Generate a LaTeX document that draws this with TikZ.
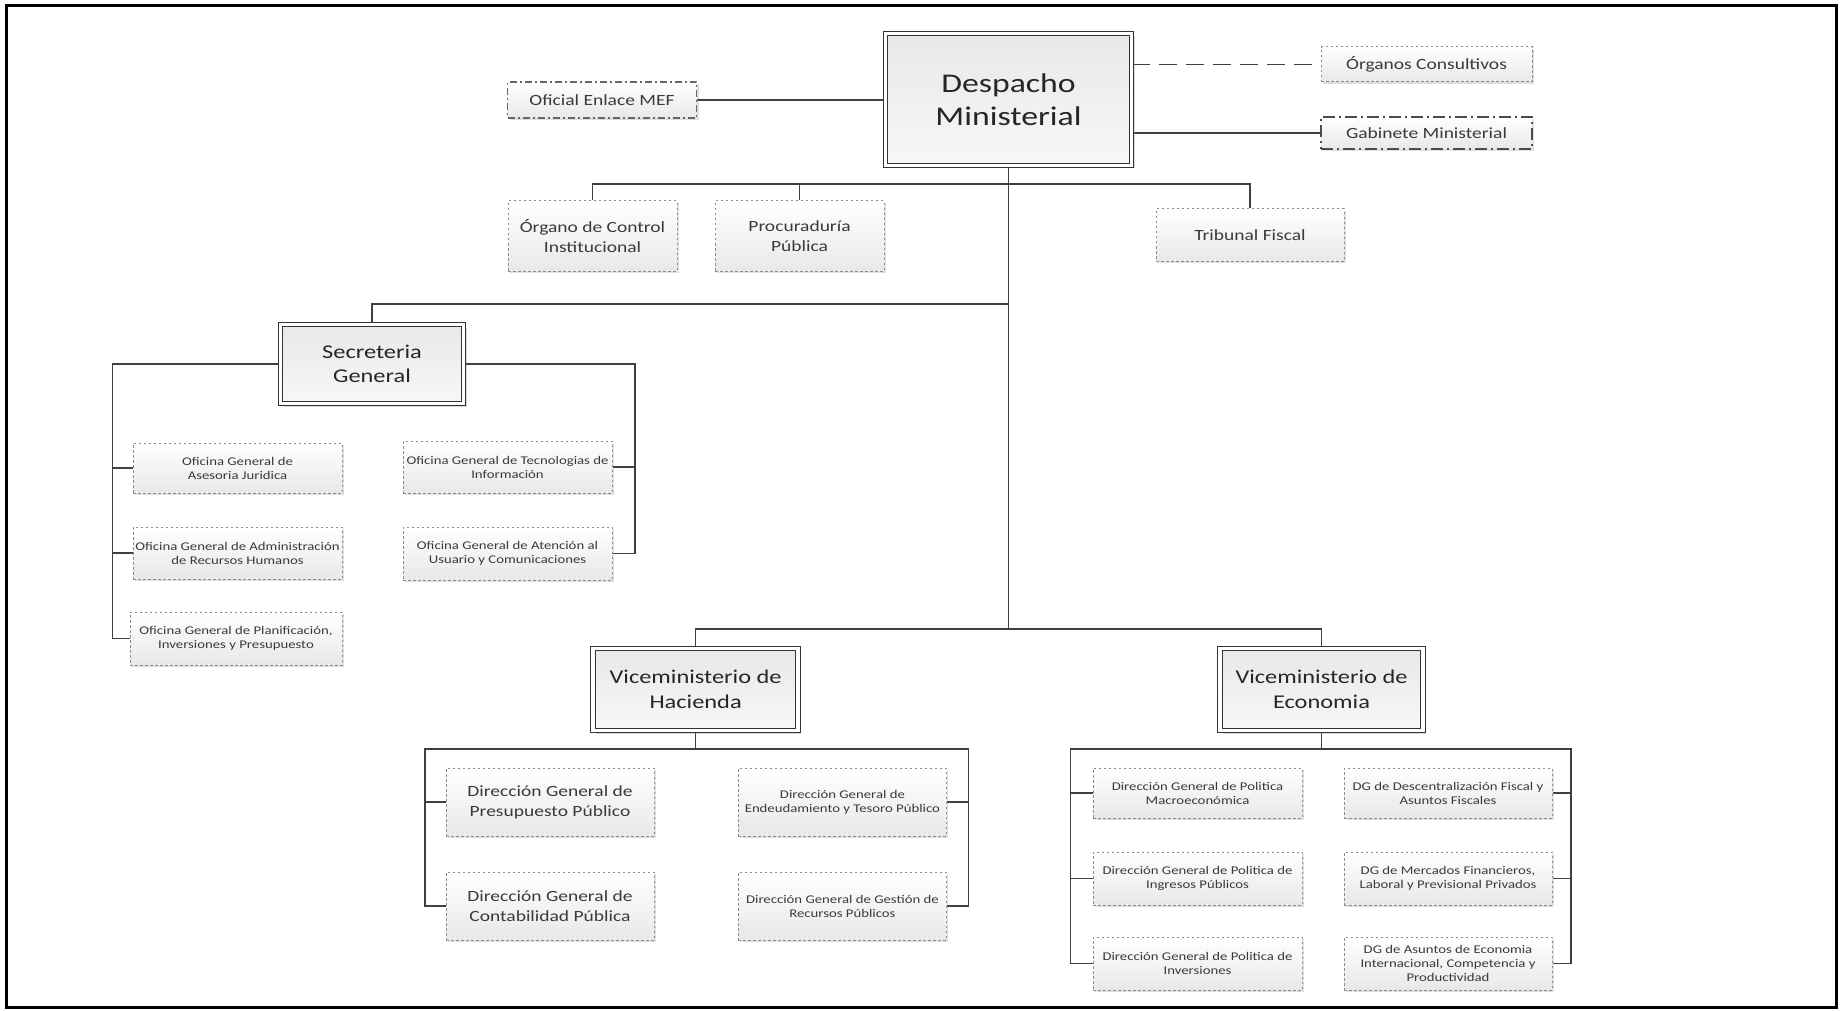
\documentclass[tikz,border=0pt]{standalone}
\usepackage{fontspec}
\setmainfont{Carlito}[FakeStretch=1.25]
\usetikzlibrary{shadows,backgrounds}
\newcommand\fA{\fontsize{27pt}{33pt}\selectfont}
\newcommand\fB{\fontsize{19.5pt}{24.5pt}\selectfont}
\newcommand\fC{\fontsize{15.6pt}{20pt}\selectfont}
\newcommand\fD{\fontsize{11.8pt}{14pt}\selectfont}
\definecolor{linec}{HTML}{404040}
\definecolor{txt}{HTML}{3A3A3A}
\begin{document}
\begin{tikzpicture}[x=1pt,y=-1pt,
  mainbox/.style={draw=black!80, line width=1.1pt, double=white, double distance=3.6pt,
    top color=black!9, bottom color=black!3,
    drop shadow={shadow xshift=3pt, shadow yshift=-3pt, opacity=0.3, fill=black!50},
    inner sep=0pt, align=center, text=black!85},
  dotbox/.style={draw=black!45, line width=1pt, dash pattern=on 2.5pt off 2.5pt,
    top color=white, bottom color=black!9,
    drop shadow={shadow xshift=2pt, shadow yshift=-2pt, opacity=0.25, fill=black!50},
    inner sep=0pt, align=center, text=txt},
  dashdotbox/.style={dotbox, draw=black!60, line width=1.1pt, dash pattern=on 7pt off 3pt on 2pt off 3pt},
  longdashbox/.style={dotbox, draw=black!70, line width=1.3pt, dash pattern=on 12pt off 4pt on 2pt off 4pt},
  conn/.style={draw=linec, line width=1.3pt}
]
\useasboundingbox (0,0) rectangle (1841,1011);
\draw[line width=3pt, black] (6,5.5) rectangle (1836.5,1007.5);

% top level
\node[mainbox, minimum width=246pt, minimum height=132pt, font=\fA] (desp) at (1008.5,99.5) {Despacho\\Ministerial};
\node[dashdotbox, minimum width=189pt, minimum height=36pt, font=\fC] (ofi) at (602,100) {Oficial Enlace MEF};
\node[dotbox, minimum width=211pt, minimum height=35pt, font=\fC] (org) at (1426.5,64.5) {Órganos Consultivos};
\node[longdashbox, minimum width=211pt, minimum height=32pt, font=\fC] (gab) at (1426.5,133) {Gabinete Ministerial};

\node[dotbox, minimum width=169pt, minimum height=70pt, font=\fC] (ocig) at (592.5,236) {Órgano de Control\\Institucional};
\node[dotbox, minimum width=169pt, minimum height=70pt, font=\fC] (proc) at (799.5,236) {Procuraduría\\Pública};
\node[dotbox, minimum width=188pt, minimum height=52pt, font=\fC] (trib) at (1250,235) {Tribunal Fiscal};

% Secreteria General
\node[mainbox, minimum width=183pt, minimum height=79pt, font=\fB] (sg) at (372,364) {Secreteria\\General};
\node[dotbox, minimum width=209pt, minimum height=50pt, font=\fD] (ases) at (237.5,468) {Oficina General de\\Asesoria Juridica};
\node[dotbox, minimum width=209pt, minimum height=52pt, font=\fD] (adm) at (237.5,553) {Oficina General de Administración\\de Recursos Humanos};
\node[dotbox, minimum width=212pt, minimum height=53pt, font=\fD] (plan) at (236,638.5) {Oficina General de Planificación,\\Inversiones y Presupuesto};
\node[dotbox, minimum width=209pt, minimum height=52pt, font=\fD] (tec) at (507.5,467) {Oficina General de Tecnologias de\\Información};
\node[dotbox, minimum width=209pt, minimum height=53pt, font=\fD] (aten) at (507.5,553.5) {Oficina General de Atención al\\Usuario y Comunicaciones};

% Viceministerios
\node[mainbox, minimum width=205pt, minimum height=82pt, font=\fB] (vh) at (695.6,689.5) {Viceministerio de\\Hacienda};
\node[mainbox, minimum width=203pt, minimum height=82pt, font=\fB] (ve) at (1321.5,689.5) {Viceministerio de\\Economia};

\node[dotbox, minimum width=208pt, minimum height=68pt, font=\fC] (dgp) at (550,802) {Dirección General de\\Presupuesto Público};
\node[dotbox, minimum width=208pt, minimum height=68pt, font=\fC] (dgc) at (550,906) {Dirección General de\\Contabilidad Pública};
\node[dotbox, minimum width=208pt, minimum height=68pt, font=\fD] (dge) at (842.4,802) {Dirección General de\\Endeudamiento y Tesoro Público};
\node[dotbox, minimum width=208pt, minimum height=68pt, font=\fD] (dgg) at (842.4,906) {Dirección General de Gestión de\\Recursos Públicos};

\node[dotbox, minimum width=209pt, minimum height=50pt, font=\fD] (mac) at (1197.5,793) {Dirección General de Politica\\Macroeconómica};
\node[dotbox, minimum width=209pt, minimum height=53pt, font=\fD] (ing) at (1197.5,878.5) {Dirección General de Politica de\\Ingresos Públicos};
\node[dotbox, minimum width=209pt, minimum height=53pt, font=\fD] (inv) at (1197.5,963.5) {Dirección General de Politica de\\Inversiones};
\node[dotbox, minimum width=208pt, minimum height=50pt, font=\fD] (des) at (1448,793) {DG de Descentralización Fiscal y\\Asuntos Fiscales};
\node[dotbox, minimum width=208pt, minimum height=53pt, font=\fD] (mer) at (1448,878.5) {DG de Mercados Financieros,\\Laboral y Previsional Privados};
\node[dotbox, minimum width=208pt, minimum height=53pt, font=\fD] (asu) at (1448,963.5) {DG de Asuntos de Economia\\Internacional, Competencia y\\Productividad};

% helper coordinates
\coordinate (bar1) at (1008.5,184);
\coordinate (bar2) at (1008.5,304);
\coordinate (bar3) at (1008.5,629);
\coordinate (sgl) at (112.7,365);
\coordinate (sgr) at (635,365);
\coordinate (hl) at (425,749);
\coordinate (hr) at (968.6,749);
\coordinate (el) at (1070.8,749);
\coordinate (er) at (1571,749);

\begin{scope}[on background layer]
\draw[conn] (ofi.east) -- (ofi.east -| desp.west);
\draw[conn, dash pattern=on 18pt off 9pt] (org.west -| desp.east) -- (org.west);
\draw[conn] (gab.west -| desp.east) -- (gab.west);
\draw[conn] (desp.south) -- (bar3);
\draw[conn] (ocig.north) -- (ocig.north |- bar1) -- (trib.north |- bar1) -- (trib.north);
\draw[conn] (proc.north) -- (proc.north |- bar1);
\draw[conn] (sg.north) |- (bar2);
\draw[conn] (sg.west) -| (sgl |- plan.west) -- (plan.west);
\draw[conn] (sgl |- ases.west) -- (ases.west);
\draw[conn] (sgl |- adm.west) -- (adm.west);
\draw[conn] (sg.east) -| (sgr |- aten.east) -- (aten.east);
\draw[conn] (sgr |- tec.east) -- (tec.east);
\draw[conn] (vh.north) |- (bar3);
\draw[conn] (ve.north) |- (bar3);
\draw[conn] (vh.south) -- (vh.south |- hl);
\draw[conn] (dgc.west) -| (hl) -- (hr) |- (dgg.east);
\draw[conn] (hl |- dgp.west) -- (dgp.west);
\draw[conn] (hr |- dge.east) -- (dge.east);
\draw[conn] (ve.south) -- (ve.south |- el);
\draw[conn] (inv.west) -| (el) -- (er) |- (asu.east);
\draw[conn] (el |- mac.west) -- (mac.west);
\draw[conn] (el |- ing.west) -- (ing.west);
\draw[conn] (er |- des.east) -- (des.east);
\draw[conn] (er |- mer.east) -- (mer.east);
\end{scope}
\end{tikzpicture}
\end{document}
